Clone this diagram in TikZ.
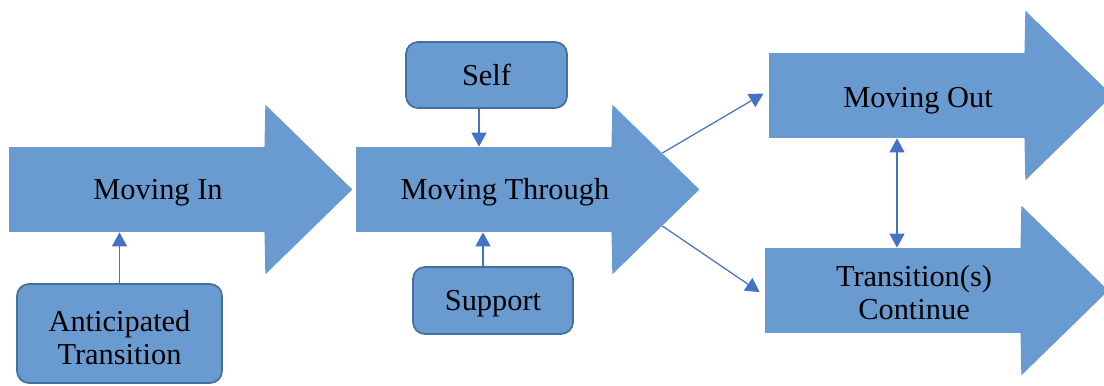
\documentclass[tikz,border=0pt]{standalone}
\usepackage{fontspec}
\setmainfont{Liberation Serif}
\usetikzlibrary{arrows.meta, positioning}
\definecolor{BlockBlue}{RGB}{106, 155, 208}
\definecolor{EdgeBlue}{RGB}{65, 113, 156}
\definecolor{LinkBlue}{RGB}{68, 114, 196}

\begin{document}
\begin{tikzpicture}[
    font=\fontsize{17.3}{19}\selectfont,
    body/.style={rectangle, fill=BlockBlue, minimum width=5.12cm, minimum height=1.7cm, inner sep=0pt},
    box/.style={rectangle, rounded corners=2.4mm, draw=EdgeBlue, line width=1pt, fill=BlockBlue, align=center, inner sep=0pt},
    lbl/.style={align=center, xshift=4.2mm},
    oneline/.style={text height=15.4pt, text depth=3.8pt},
    link/.style={-{Triangle[length=2.8mm, width=3mm]}, draw=LinkBlue, line width=0.7pt}
  ]
    \useasboundingbox (0,0) rectangle (22.08,7.7);

    % Big arrows: bodies
    \node[body] (mi) at (2.74, 3.91) {};
    \node[body] (mt) at (9.68, 3.91) {};
    \node[body] (mo) at (17.94, 5.79) {};
    \node[body] (tc) at (17.86, 1.89) {};

    % Big arrows: heads
    \foreach \n in {mi, mt, mo, tc}
      \fill[BlockBlue] ([xshift=-0.5pt]\n.south east) -- ([xshift=-0.5pt]\n.north east)
        -- ([yshift=8.4mm]\n.north east) -- ([xshift=17.4mm]\n.east)
        -- ([yshift=-8.4mm]\n.south east) -- cycle;

    % Labels on the arrows
    \node[lbl, oneline] (mi-t) at (mi) {Moving In};
    \node[lbl, oneline] (mt-t) at (mt) {Moving Through};
    \node[lbl, oneline, yshift=-0.3mm] (mo-t) at (mo) {Moving Out};
    \node[lbl, yshift=-0.4mm] (tc-t) at (tc) {Transition(s)\\Continue};

    % Side boxes
    \node[box, oneline, minimum width=3.22cm, minimum height=1.32cm] (self) at (9.73, 6.20) {Self};
    \node[box, oneline, minimum width=3.2cm, minimum height=1.34cm] (supp) at (9.86, 1.69) {Support};
    \node[box, minimum width=4.1cm, minimum height=1.98cm] (ant) at (2.39, 1.03) {\rule{0pt}{17pt}Anticipated\\Transition};

    % Points where the split lines leave the head
    \coordinate (mt-up) at ([xshift=10mm, yshift=7.3mm]mt.east);
    \coordinate (mt-dn) at ([xshift=10mm, yshift=-7.3mm]mt.east);

    % Connectors
    \draw[link] (ant.north) -- (ant.north |- mi.south);
    \draw[link] ([xshift=-1.5mm]self.south) -- ([xshift=-1.5mm]self.south |- mt.north);
    \draw[link] ([xshift=-2mm]supp.north) -- ([xshift=-2mm]supp.north |- mt.south);
    \draw[link, shorten >=1.2mm] (mt-up) -- ([yshift=1mm]mo.west);
    \draw[link, shorten >=1.2mm] (mt-dn) -- ([yshift=-1mm]tc.west);
    \draw[link, {Triangle[length=2.8mm, width=3mm]}-{Triangle[length=2.8mm, width=3mm]}] (mo.south) -- (mo.south |- tc.north);
  \end{tikzpicture}
\end{document}
